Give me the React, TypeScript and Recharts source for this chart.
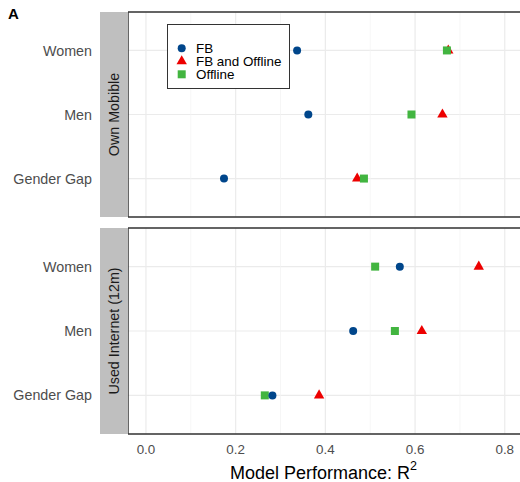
import React from 'react';
import {
  ScatterChart,
  Scatter,
  XAxis,
  YAxis,
  CartesianGrid,
  ReferenceLine,
  Legend,
  Label,
} from 'recharts';

// ---------- data ----------
const categories = ['Gender Gap', 'Men', 'Women']; // bottom -> top
const xMajorTicks = [0, 0.2, 0.4, 0.6, 0.8];
const xMinorTicks = [0.1, 0.3, 0.5, 0.7];
const xDomain: [number, number] = [-0.04, 0.854];
const yDomain: [number, number] = [0.4, 3.6];
const panelNames = ['Own Mobible', 'Used Internet (12m)'];
const seriesNames = ['FB', 'FB and Offline', 'Offline'];

const ownMobileFB = [0.174, 0.362, 0.337];
const ownMobileFBOffline = [0.471, 0.661, 0.674];
const ownMobileOffline = [0.486, 0.592, 0.671];

const usedInternetFB = [0.282, 0.462, 0.566];
const usedInternetFBOffline = [0.386, 0.615, 0.742];
const usedInternetOffline = [0.265, 0.555, 0.511];

// ---------- styling ----------
const FONT = '"Liberation Sans", Arial, Helvetica, sans-serif';
const CHART_W = 530;
const BORDER = '#333333';
const COLORS: Record<string, string> = {
  FB: '#00468B',
  'FB and Offline': '#ED0000',
  Offline: '#42B540',
};
const SHAPES: Record<string, string> = {
  FB: 'circle',
  'FB and Offline': 'triangle',
  Offline: 'square',
};

const toPoints = (vals: number[]) =>
  vals.map((v, i) => ({ x: v, y: i + 1, cat: categories[i] }));

function Marker({ kind, cx, cy, fill }: { kind: string; cx: number; cy: number; fill: string }) {
  if (kind === 'circle') return <circle cx={cx} cy={cy} r={4} fill={fill} />;
  if (kind === 'triangle') {
    const s = 10.4;
    const h = s * 0.866;
    const pts = `${cx},${cy - (2 * h) / 3} ${cx - s / 2},${cy + h / 3} ${cx + s / 2},${cy + h / 3}`;
    return <polygon points={pts} fill={fill} />;
  }
  return <rect x={cx - 4} y={cy - 4} width={8} height={8} fill={fill} />;
}

const makeShape = (name: string) => (props: any) =>
  <Marker kind={SHAPES[name]} cx={props.cx} cy={props.cy} fill={COLORS[name]} />;

const LegendBox = () => (
  <div
    style={{
      width: 123,
      height: 65,
      border: '1px solid #333333',
      background: '#ffffff',
      boxSizing: 'border-box',
    }}
  >
    <svg width={121} height={63} style={{ display: 'block' }}>
      {seriesNames.map((n, i) => {
        const cy = 23.3 + i * 13;
        return (
          <g key={n}>
            <Marker kind={SHAPES[n]} cx={13.7} cy={cy} fill={COLORS[n]} />
            <text
              x={28}
              y={cy}
              dominantBaseline="central"
              fontSize={13.4}
              fontFamily={FONT}
              fill="#000000"
            >
              {n}
            </text>
          </g>
        );
      })}
    </svg>
  </div>
);

const stripContent = (title: string) => (props: any) => {
  const vb = props.viewBox || { x: 0, y: 0, width: 128, height: 205 };
  const w = 28;
  const x = vb.x + vb.width - w;
  const cx = x + w / 2;
  const cy = vb.y + vb.height / 2;
  return (
    <g>
      <rect x={x} y={vb.y} width={w} height={vb.height} fill="#bfbfbf" />
      <text
        x={cx}
        y={cy}
        transform={`rotate(-90, ${cx}, ${cy})`}
        textAnchor="middle"
        dominantBaseline="central"
        fontSize={14.3}
        fontFamily={FONT}
        fill="#1a1a1a"
      >
        {title}
      </text>
    </g>
  );
};

const titleContent = (props: any) => {
  const vb = props.viewBox || { x: 128, y: 434, width: 401, height: 48 };
  // centre on the visible part of the panel (panel is clipped at the right edge)
  const cx = (vb.x + 519) / 2;
  return (
    <text
      x={cx}
      y={vb.y + 45}
      textAnchor="middle"
      fontSize={18}
      fontFamily={FONT}
      fill="#000000"
    >
      Model Performance: R
      <tspan dy={-9} fontSize={12.5}>
        2
      </tspan>
    </text>
  );
};

type PanelProps = {
  title: string;
  fb: number[];
  fbo: number[];
  off: number[];
  height: number;
  margin: { top: number; right: number; bottom: number; left: number };
  showX: boolean;
  showLegend: boolean;
};

function Panel({ title, fb, fbo, off, height, margin, showX, showLegend }: PanelProps) {
  const dataByName: Record<string, any[]> = {
    FB: toPoints(fb),
    'FB and Offline': toPoints(fbo),
    Offline: toPoints(off),
  };
  const drawOrder = ['FB and Offline', 'Offline', 'FB'];
  return (
    <ScatterChart width={CHART_W} height={height} margin={margin}>
      <CartesianGrid vertical={false} stroke="#ebebeb" strokeWidth={1.2} />
      {xMinorTicks.map((v) => (
        <ReferenceLine key={`mi${v}`} x={v} stroke="#f2f2f2" strokeWidth={0.7} />
      ))}
      {xMajorTicks.map((v) => (
        <ReferenceLine key={`ma${v}`} x={v} stroke="#ebebeb" strokeWidth={1.2} />
      ))}
      <XAxis
        type="number"
        dataKey="x"
        domain={xDomain}
        ticks={xMajorTicks}
        allowDataOverflow
        interval={0}
        hide={!showX}
        height={showX ? 48 : 0}
        tickLine={false}
        axisLine={false}
        tickSize={0}
        tickMargin={10}
        tickFormatter={(v: number) => v.toFixed(1)}
        tick={{ fill: '#4d4d4d', fontSize: 13.4, fontFamily: FONT }}
      >
        {showX && <Label content={titleContent} />}
      </XAxis>
      <YAxis
        type="number"
        dataKey="y"
        domain={yDomain}
        ticks={[1, 2, 3]}
        allowDataOverflow
        interval={0}
        width={128}
        tickLine={false}
        axisLine={false}
        tickSize={0}
        tickMargin={36}
        tickFormatter={(v: number) => categories[v - 1]}
        tick={{ fill: '#4d4d4d', fontSize: 14.3, fontFamily: FONT }}
      >
        <Label content={stripContent(title)} />
      </YAxis>
      {/* panel border: left, top, bottom (right edge lies outside the picture) */}
      <ReferenceLine x={xDomain[0]} stroke={BORDER} strokeWidth={1.5} ifOverflow="visible" />
      <ReferenceLine y={yDomain[0]} stroke={BORDER} strokeWidth={1.5} ifOverflow="visible" />
      <ReferenceLine y={yDomain[1]} stroke={BORDER} strokeWidth={1.5} ifOverflow="visible" />
      {drawOrder.map((n) => (
        <Scatter
          key={n}
          name={n}
          data={dataByName[n]}
          fill={COLORS[n]}
          shape={makeShape(n)}
          isAnimationActive={false}
        />
      ))}
      {showLegend && (
        <Legend
          layout="vertical"
          align="center"
          verticalAlign="middle"
          content={() => <LegendBox />}
          wrapperStyle={{ left: 167, top: 24, width: 123, height: 65 }}
        />
      )}
    </ScatterChart>
  );
}

export default function App() {
  return (
    <div
      style={{
        position: 'absolute',
        left: 0,
        top: 0,
        width: 520,
        height: 482,
        background: '#ffffff',
        fontFamily: FONT,
        overflow: 'hidden',
      }}
    >
      <svg width={40} height={30} style={{ position: 'absolute', left: 0, top: 0 }}>
        <text x={8} y={19} fontSize={15} fontWeight="bold" fontFamily={FONT} fill="#000000">
          A
        </text>
      </svg>
      <div style={{ position: 'absolute', left: 0, top: 0, width: CHART_W }}>
        <Panel
          title={panelNames[0]}
          fb={ownMobileFB}
          fbo={ownMobileFBOffline}
          off={ownMobileOffline}
          height={218}
          margin={{ top: 12, right: 1, bottom: 1, left: 0 }}
          showX={false}
          showLegend={true}
        />
      </div>
      <div style={{ position: 'absolute', left: 0, top: 218, width: CHART_W }}>
        <Panel
          title={panelNames[1]}
          fb={usedInternetFB}
          fbo={usedInternetFBOffline}
          off={usedInternetOffline}
          height={264}
          margin={{ top: 10, right: 1, bottom: 0, left: 0 }}
          showX={true}
          showLegend={false}
        />
      </div>
    </div>
  );
}
